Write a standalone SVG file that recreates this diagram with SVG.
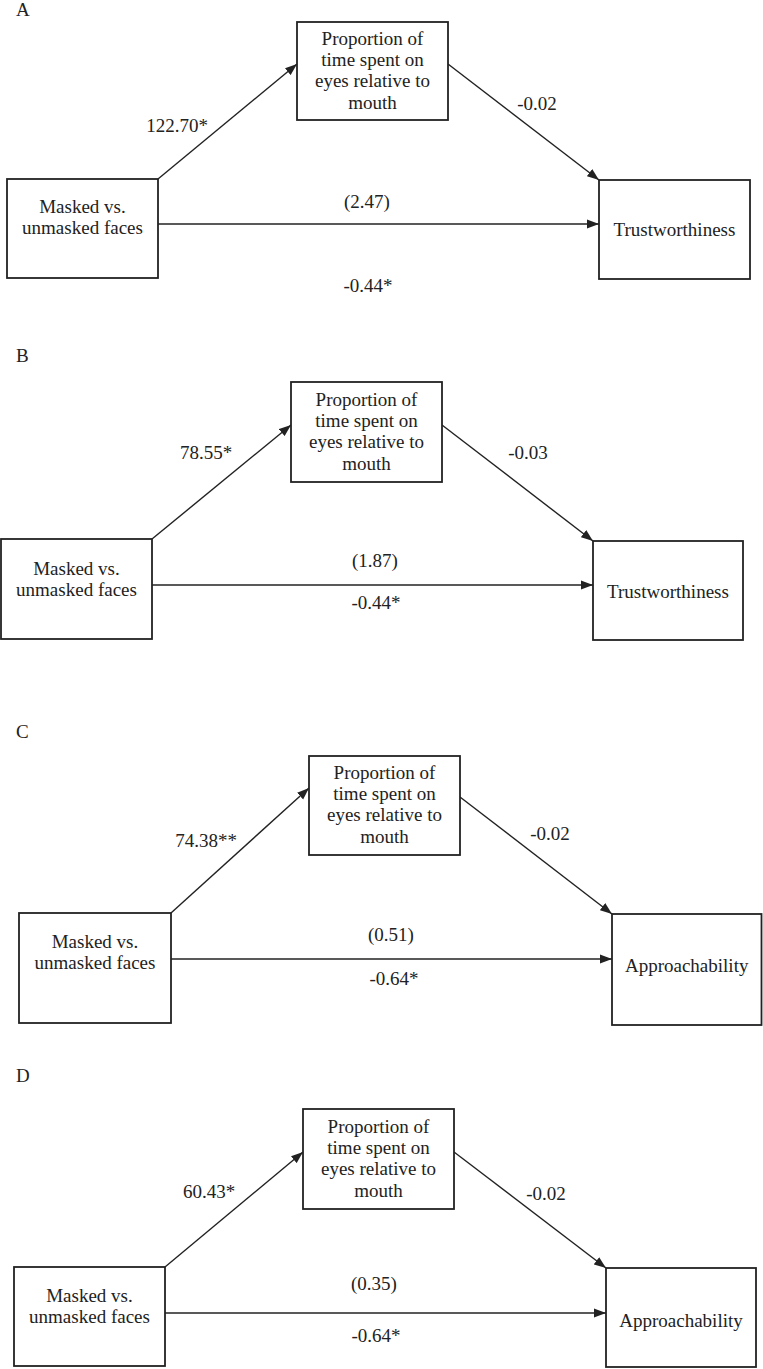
<svg xmlns="http://www.w3.org/2000/svg" width="763" height="1369" viewBox="0 0 763 1369">
<style>
.box{fill:#fff;stroke:#222;stroke-width:1.8}
.ln{fill:none;stroke:#222;stroke-width:1.4;marker-end:url(#ah)}
text{font-family:"Liberation Serif","Times New Roman",serif;font-size:19px;fill:#222;text-anchor:middle}
.pl{text-anchor:start}
</style>
<defs>
<marker id="ah" markerUnits="userSpaceOnUse" markerWidth="12" markerHeight="10" refX="12" refY="5" orient="auto">
<path d="M0,0.5 L12,5 L0,9.5 z" fill="#222"/>
</marker>
</defs>
<rect width="763" height="1369" fill="#fff"/>

<!-- Panel labels -->
<text class="pl" x="16" y="16">A</text>
<text class="pl" x="16" y="362">B</text>
<text class="pl" x="16" y="738">C</text>
<text class="pl" x="16" y="1082">D</text>

<g id="connectors">
<path class="ln" d="M158,179 L297,64"/>
<path class="ln" d="M448,64 L599,180"/>
<path class="ln" d="M158,224 L599,224"/>
<path class="ln" d="M152,539 L291,425"/>
<path class="ln" d="M442,425 L593,541"/>
<path class="ln" d="M152,585 L593,585"/>
<path class="ln" d="M171,913 L309,788"/>
<path class="ln" d="M460,797 L612,914"/>
<path class="ln" d="M171,959 L612,959"/>
<path class="ln" d="M165,1267 L303,1152"/>
<path class="ln" d="M454,1152 L606,1268"/>
<path class="ln" d="M165,1313 L606,1313"/>
</g>

<g id="edge-labels">
<text x="177" y="132">122.70*</text>
<text x="537" y="110">-0.02</text>
<text x="367" y="208">(2.47)</text>
<text x="368" y="292">-0.44*</text>
<text x="206" y="459">78.55*</text>
<text x="528" y="459">-0.03</text>
<text x="375" y="567">(1.87)</text>
<text x="376" y="609">-0.44*</text>
<text x="206" y="847">74.38**</text>
<text x="550" y="840">-0.02</text>
<text x="391" y="941">(0.51)</text>
<text x="394" y="985">-0.64*</text>
<text x="209" y="1198">60.43*</text>
<text x="546" y="1200">-0.02</text>
<text x="374" y="1290">(0.35)</text>
<text x="376" y="1342">-0.64*</text>
</g>

<g id="A-x">
<rect class="box" x="7" y="179" width="151" height="99"/>
<text x="82.5" y="213">Masked vs.</text>
<text x="82.5" y="234">unmasked faces</text>
</g>
<g id="A-m">
<rect class="box" x="297" y="22" width="151" height="98"/>
<text x="372.5" y="45">Proportion of</text>
<text x="372.5" y="66">time spent on</text>
<text x="372.5" y="87">eyes relative to</text>
<text x="372.5" y="109">mouth</text>
</g>
<g id="A-y">
<rect class="box" x="599" y="180" width="151" height="99"/>
<text x="674.5" y="236">Trustworthiness</text>
</g>

<g id="B-x">
<rect class="box" x="1" y="539" width="151" height="100"/>
<text x="76.5" y="575">Masked vs.</text>
<text x="76.5" y="596">unmasked faces</text>
</g>
<g id="B-m">
<rect class="box" x="291" y="382" width="151" height="100"/>
<text x="366.5" y="406">Proportion of</text>
<text x="366.5" y="427">time spent on</text>
<text x="366.5" y="448">eyes relative to</text>
<text x="366.5" y="470">mouth</text>
</g>
<g id="B-y">
<rect class="box" x="593" y="541" width="150" height="99"/>
<text x="668" y="598">Trustworthiness</text>
</g>

<g id="C-x">
<rect class="box" x="19" y="913" width="152" height="110"/>
<text x="95" y="948">Masked vs.</text>
<text x="95" y="969">unmasked faces</text>
</g>
<g id="C-m">
<rect class="box" x="309" y="756" width="151" height="99"/>
<text x="384.5" y="779">Proportion of</text>
<text x="384.5" y="800">time spent on</text>
<text x="384.5" y="821">eyes relative to</text>
<text x="384.5" y="843">mouth</text>
</g>
<g id="C-y">
<rect class="box" x="612" y="914" width="149.5" height="111"/>
<text x="686.7" y="972">Approachability</text>
</g>

<g id="D-x">
<rect class="box" x="14" y="1267" width="151" height="99"/>
<text x="89.5" y="1302">Masked vs.</text>
<text x="89.5" y="1323">unmasked faces</text>
</g>
<g id="D-m">
<rect class="box" x="303" y="1109" width="151" height="100"/>
<text x="378.5" y="1133">Proportion of</text>
<text x="378.5" y="1154">time spent on</text>
<text x="378.5" y="1175">eyes relative to</text>
<text x="378.5" y="1197">mouth</text>
</g>
<g id="D-y">
<rect class="box" x="606" y="1268" width="150" height="99"/>
<text x="681" y="1327">Approachability</text>
</g>
</svg>
